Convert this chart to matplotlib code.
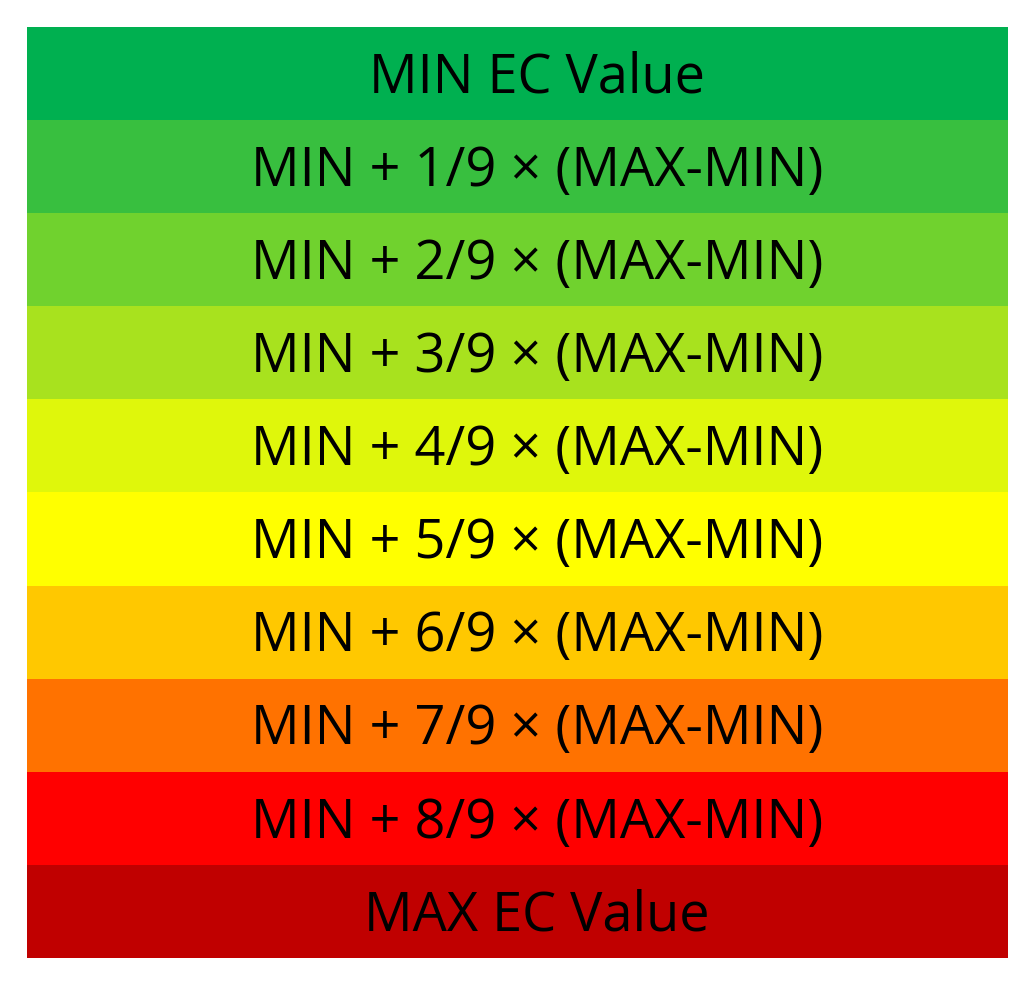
import matplotlib.pyplot as plt

labels = ["MIN EC Value"] + [f"MIN + {i}/9 \u00d7 (MAX-MIN)" for i in range(1, 9)] + ["MAX EC Value"]
colors = ["#00b050", "#38bf3f", "#70d22e", "#a8e21e", "#dff70b",
          "#ffff00", "#ffc800", "#ff7200", "#ff0000", "#c00000"]

fig = plt.figure(figsize=(10.35, 9.86), dpi=100)
ax = fig.add_axes([27 / 1035, 28 / 986, 981 / 1035, 931 / 986])

n = len(labels)
ypos = list(range(n))[::-1]
ax.barh(ypos, [1] * n, height=1.0, left=0, color=colors, edgecolor="none")
for y, lab in zip(ypos, labels):
    ax.text(0.52, y - 0.05, lab, ha="center", va="center", fontsize=39,
            family=["Open Sans", "DejaVu Sans"], color="black")

ax.set_xlim(0, 1)
ax.set_ylim(-0.5, n - 0.5)
ax.axis("off")

fig.savefig("out.png", dpi=100, facecolor="white")
